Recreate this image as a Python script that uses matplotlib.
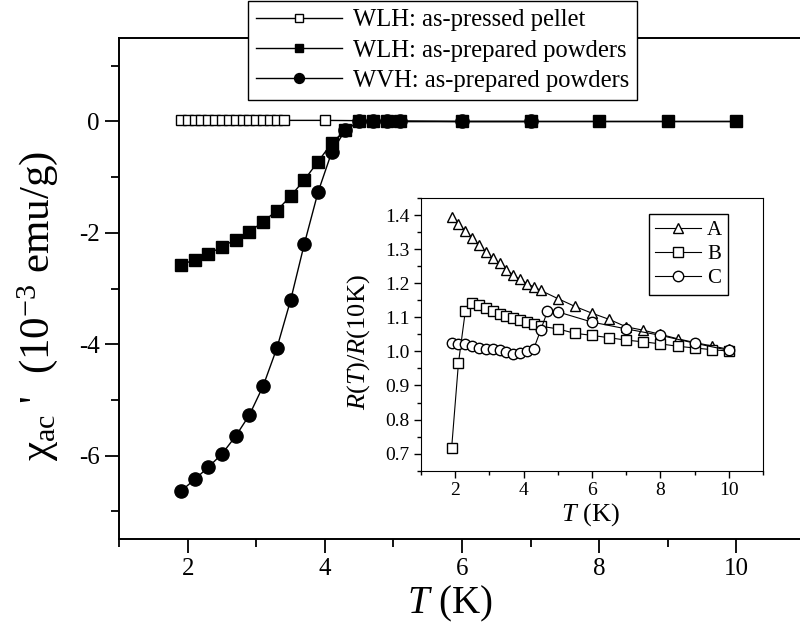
import matplotlib
matplotlib.use('Agg')
import matplotlib.pyplot as plt
from matplotlib.ticker import MultipleLocator

plt.rcParams['font.family'] = ['Liberation Serif', 'DejaVu Serif']
plt.rcParams['mathtext.fontset'] = 'custom'
plt.rcParams['mathtext.rm'] = 'Liberation Serif'
plt.rcParams['mathtext.it'] = 'Liberation Serif:italic'
plt.rcParams['axes.unicode_minus'] = False

# 主图数据: chi_ac' (10^-3 emu/g)
t_pellet = [1.9, 2.0, 2.1, 2.2, 2.3, 2.4, 2.5, 2.6, 2.7, 2.8, 2.9, 3.0, 3.1, 3.2, 3.3, 3.4,
            4.0, 6.0, 8.0, 10.0]
chi_pellet = [0.02] * 16 + [0.02, 0.0, 0.0, 0.0]

t_wlh = [1.9, 2.1, 2.3, 2.5, 2.7, 2.9, 3.1, 3.3, 3.5, 3.7, 3.9, 4.1, 4.3,
         4.5, 4.7, 4.9, 5.1, 6.0, 7.0, 8.0, 9.0, 10.0]
chi_wlh = [-2.58, -2.48, -2.38, -2.25, -2.12, -1.98, -1.80, -1.60, -1.34, -1.05, -0.72, -0.39, -0.15,
           0.0, 0.0, 0.0, 0.0, 0.0, 0.0, 0.0, 0.0, 0.0]

t_wvh = [1.9, 2.1, 2.3, 2.5, 2.7, 2.9, 3.1, 3.3, 3.5, 3.7, 3.9, 4.1, 4.3,
         4.5, 4.7, 4.9, 5.1, 6.0, 7.0]
chi_wvh = [-6.64, -6.43, -6.21, -5.97, -5.65, -5.27, -4.75, -4.07, -3.21, -2.20, -1.27, -0.55, -0.15,
           0.0, 0.0, 0.0, 0.0, 0.0, 0.0]

# 插图数据: R(T)/R(10K)
t_a = [1.9, 2.1, 2.3, 2.5, 2.7, 2.9, 3.1, 3.3, 3.5, 3.7, 3.9, 4.1, 4.3, 4.5,
       5.0, 5.5, 6.0, 6.5, 7.0, 7.5, 8.0, 8.5, 9.0, 9.5, 10.0]
r_a = [1.393, 1.374, 1.354, 1.334, 1.312, 1.292, 1.274, 1.258, 1.240, 1.224, 1.211, 1.199, 1.189, 1.179,
       1.155, 1.132, 1.112, 1.094, 1.072, 1.062, 1.050, 1.037, 1.026, 1.016, 1.006]

t_b = [1.9, 2.1, 2.3, 2.5, 2.7, 2.9, 3.1, 3.3, 3.5, 3.7, 3.9, 4.1, 4.3, 4.5,
       5.0, 5.5, 6.0, 6.5, 7.0, 7.5, 8.0, 8.5, 9.0, 9.5, 10.0]
r_b = [0.716, 0.966, 1.118, 1.143, 1.135, 1.126, 1.118, 1.111, 1.103, 1.098, 1.093, 1.086, 1.081, 1.074,
       1.066, 1.053, 1.047, 1.040, 1.033, 1.028, 1.022, 1.015, 1.010, 1.005, 1.001]

t_c = [1.9, 2.1, 2.3, 2.5, 2.7, 2.9, 3.1, 3.3, 3.5, 3.7, 3.9, 4.1, 4.3, 4.5, 4.7,
       5.0, 6.0, 7.0, 8.0, 9.0, 10.0]
r_c = [1.026, 1.023, 1.021, 1.015, 1.010, 1.008, 1.006, 1.003, 0.998, 0.991, 0.995, 1.001, 1.008, 1.062, 1.118,
       1.116, 1.086, 1.066, 1.047, 1.024, 1.003]

fig = plt.figure(figsize=(8, 6.3), dpi=100)
ax = fig.add_axes([0.149, 0.1444, 0.857, 0.7953])

ax.plot(t_pellet, chi_pellet, '-s', color='black', mfc='white', mec='black', ms=7, lw=1,
        label='WLH: as-pressed pellet')
ax.plot(t_wlh, chi_wlh, '-s', color='black', ms=8.5, lw=1, label='WLH: as-prepared powders')
ax.plot(t_wvh, chi_wvh, '-o', color='black', ms=9.5, lw=1, label='WVH: as-prepared powders')

ax.set_xlim(1, 11)
ax.set_ylim(-7.5, 1.5)
ax.xaxis.set_major_locator(MultipleLocator(2))
ax.xaxis.set_minor_locator(MultipleLocator(1))
ax.yaxis.set_major_locator(MultipleLocator(2))
ax.yaxis.set_minor_locator(MultipleLocator(1))
ax.tick_params(which='both', direction='out', top=False, right=False, labelsize=18, width=1.3, pad=4)
ax.tick_params(which='major', length=10)
ax.tick_params(which='minor', length=6)
for s in ax.spines.values():
    s.set_linewidth(1.4)

ax.set_xlabel(r'$T$ (K)', fontsize=28)
ax.xaxis.set_label_coords(0.482, -0.09)
ax.set_ylabel(r"χ$_{\rm ac}$ '  (10$^{-3}$ emu/g)", fontsize=31)
ax.yaxis.set_label_coords(-0.086, 0.465)

# 图例放在顶部, 下边缘约在 y=100px
fig.legend(loc='lower center', bbox_to_anchor=(0.553, 0.841), fontsize=17.7, frameon=True,
           fancybox=False, edgecolor='black', framealpha=1, labelspacing=0.33,
           handlelength=3.5, handletextpad=0.45, borderpad=0.33, borderaxespad=0,
           markerscale=0.75)

# 插图
ins = fig.add_axes([0.526, 0.2529, 0.428, 0.4328])
ins.plot(t_a, r_a, '-^', color='black', mfc='white', ms=7.5, lw=0.8, label='A')
ins.plot(t_b, r_b, '-s', color='black', mfc='white', ms=6.5, lw=0.8, label='B')
ins.plot(t_c, r_c, '-o', color='black', mfc='white', ms=7.5, lw=0.8, label='C')

ins.set_xlim(1, 11)
ins.set_ylim(0.65, 1.45)
ins.xaxis.set_major_locator(MultipleLocator(2))
ins.xaxis.set_minor_locator(MultipleLocator(1))
ins.yaxis.set_major_locator(MultipleLocator(0.1))
ins.yaxis.set_minor_locator(MultipleLocator(0.05))
ins.yaxis.set_major_formatter(plt.FormatStrFormatter('%.1f'))
ins.tick_params(which='both', direction='out', top=False, right=False, labelsize=14, width=1, pad=3)
ins.tick_params(which='major', length=5)
ins.tick_params(which='minor', length=3)
ins.set_xlabel(r'$T$ (K)', fontsize=19)
ins.xaxis.set_label_coords(0.494, -0.11)
ins.set_ylabel(r'$R$($T$)/$R$(10K)', fontsize=19)
ins.yaxis.set_label_coords(-0.143, 0.472)
ins.legend(loc='upper right', bbox_to_anchor=(0.898, 0.941), borderaxespad=0, fontsize=15,
           frameon=True, fancybox=False, edgecolor='black', framealpha=1, labelspacing=0.22,
           handlelength=2.2, handletextpad=0.3, borderpad=0.3)

fig.savefig('out.png', dpi=100)
